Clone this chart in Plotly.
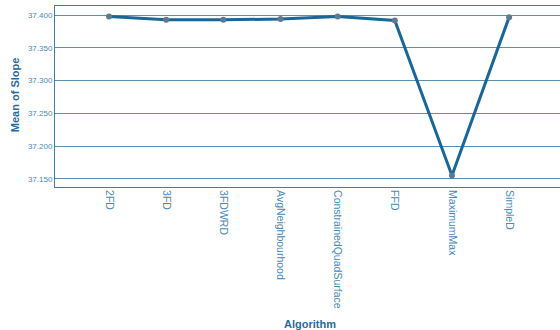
import plotly.graph_objects as go

algorithms = ["2FD", "3FD", "3FDWRD", "AvgNeighbourhood", "ConstrainedQuadSurface",
              "FFD", "MaximumMax", "SimpleD"]
mean_slope = [37.398, 37.393, 37.393, 37.394, 37.398, 37.392, 37.155, 37.397]
y_ticks = [37.150, 37.200, 37.250, 37.300, 37.350, 37.400]

fig = go.Figure()
fig.add_trace(go.Scatter(
    x=list(range(len(algorithms))), y=mean_slope, mode="lines+markers",
    line=dict(color="#1a6796", width=3),
    marker=dict(color="#5d7a8f", size=6),
    hoverinfo="skip",
))

axis_color = "#3f7fa8"
fig.update_layout(
    width=560, height=330,
    margin=dict(l=55, r=0, t=6, b=143, autoexpand=False),
    paper_bgcolor="white", plot_bgcolor="white",
    showlegend=False,
    font=dict(family="Liberation Sans, Arial, sans-serif", color="#4a8ab5", size=9),
    xaxis=dict(
        tickmode="array", tickvals=list(range(len(algorithms))), ticktext=algorithms,
        range=[-0.945, 7.89], tickangle=90, showgrid=False, zeroline=False,
        showline=True, linecolor=axis_color, linewidth=1, mirror=True,
        tickfont=dict(size=10.5, color="#4a8ab5"), ticks="", ticklen=0,
        automargin=False,
    ),
    yaxis=dict(
        range=[37.1375, 37.414], tickvals=y_ticks, tickformat=".3f",
        showgrid=True, gridcolor="#5b8fb0", gridwidth=1, zeroline=False,
        showline=True, linecolor=axis_color, linewidth=1, mirror=True,
        tickfont=dict(size=8, color="#4a8ab5"), automargin=False,
    ),
    annotations=[
        dict(text="<b>Algorithm</b>", xref="paper", yref="paper", x=0.505, y=-0.757,
             xanchor="center", yanchor="middle", showarrow=False,
             font=dict(size=11, color="#2a6a9a")),
        dict(text="<b>Mean of Slope</b>", xref="paper", yref="paper", x=-0.079, y=0.508,
             xanchor="center", yanchor="middle", showarrow=False, textangle=-90,
             font=dict(size=11, color="#2a6a9a")),
    ],
)

fig.write_html("out.html", config={"displayModeBar": False, "staticPlot": True},
               post_script="document.body.style.margin='0';document.body.style.overflow='hidden';")
